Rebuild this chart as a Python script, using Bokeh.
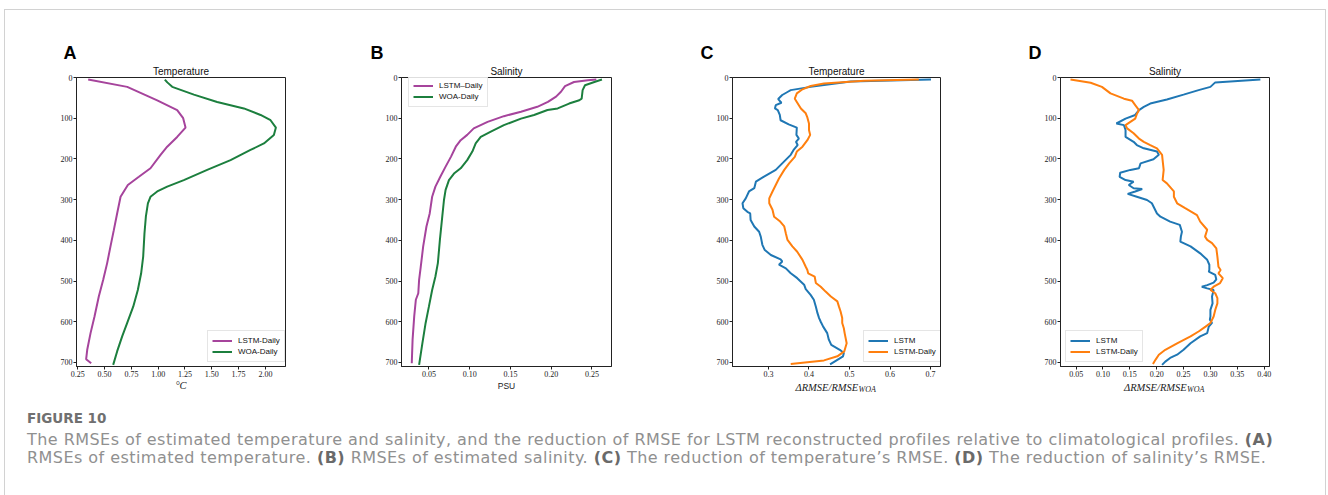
from bokeh.plotting import figure
from bokeh.models import (Range1d, FixedTicker, NumeralTickFormatter, Title,
                          Legend, LegendItem, Div)
from bokeh.layouts import row, column
from bokeh.embed import file_html
from bokeh.resources import INLINE

# ---------------- data ----------------
depth_ticks = [0, 100, 200, 300, 400, 500, 600, 700]

# Panel A: RMSE of temperature (degC)
a_lstm_depth = [5, 23, 56, 80, 100, 123, 146, 170, 190, 223, 244, 264, 293, 334,
                375, 415, 456, 497, 538, 587, 628, 669, 692, 702]
a_lstm = [0.347, 0.711, 0.991, 1.177, 1.233, 1.255, 1.177, 1.084, 1.022, 0.928,
          0.820, 0.717, 0.649, 0.617, 0.586, 0.555, 0.524, 0.487, 0.446, 0.406,
          0.369, 0.338, 0.328, 0.375]
a_woa_depth = [5, 12, 23, 42, 60, 76, 92, 105, 123, 141, 162, 178, 203, 227, 252,
               268, 280, 293, 309, 342, 383, 440, 481, 522, 563, 603, 636, 673, 706]
a_woa = [1.062, 1.085, 1.131, 1.333, 1.55, 1.799, 1.955, 2.048, 2.098, 2.079,
         1.986, 1.861, 1.675, 1.457, 1.239, 1.084, 0.991, 0.928, 0.904, 0.885,
         0.872, 0.860, 0.841, 0.810, 0.767, 0.711, 0.664, 0.617, 0.580]
a_xticks = ["0.25", "0.50", "0.75", "1.00", "1.25", "1.50", "1.75", "2.00"]

# Panel B: RMSE of salinity (PSU)
b_lstm_depth = [5, 7, 11, 21, 35, 47, 60, 72, 84, 95, 109, 125, 141, 154, 170,
                195, 219, 244, 268, 293, 334, 366, 415, 465, 497, 530, 546, 587,
                644, 702]
b_lstm = [0.2554, 0.245, 0.228, 0.217, 0.212, 0.206, 0.196, 0.183, 0.163, 0.142,
          0.122, 0.105, 0.097, 0.089, 0.083, 0.077, 0.0705, 0.064, 0.058, 0.054,
          0.051, 0.047, 0.043, 0.040, 0.038, 0.037, 0.034, 0.032, 0.030, 0.029]
b_woa_depth = [5, 11, 19, 31, 52, 56, 64, 76, 80, 92, 101, 117, 133, 146, 162,
               182, 203, 223, 236, 252, 276, 301, 342, 399, 456, 489, 522, 563,
               603, 653, 706]
b_woa = [0.2623, 0.253, 0.2415, 0.2386, 0.2374, 0.2345, 0.222, 0.208, 0.1955,
         0.179, 0.163, 0.142, 0.126, 0.1136, 0.1074, 0.1033, 0.097, 0.089, 0.0808,
         0.0746, 0.0705, 0.0685, 0.0664, 0.0635, 0.061, 0.058, 0.054, 0.050,
         0.046, 0.042, 0.038]
b_xticks = ["0.05", "0.10", "0.15", "0.20", "0.25"]

# Panel C: reduction of temperature RMSE
c_lstm_depth = [5, 10, 23, 31, 35, 43, 53, 62, 68, 76, 80, 92, 105, 115, 123,
                141, 150, 158, 166, 178, 190, 211, 227, 244, 256, 272, 280, 297,
                309, 321, 330, 334, 350, 366, 379, 391, 411, 424, 436, 447, 452,
                460, 469, 481, 493, 509, 520, 534, 546, 563, 579, 591, 600, 612,
                628, 644, 657, 669, 677, 685, 705]
c_lstm = [0.701, 0.503, 0.404, 0.355, 0.348, 0.334, 0.324, 0.332, 0.318, 0.316,
          0.323, 0.328, 0.330, 0.350, 0.370, 0.369, 0.375, 0.368, 0.372, 0.362,
          0.355, 0.334, 0.318, 0.288, 0.269, 0.265, 0.252, 0.244, 0.236, 0.238,
          0.248, 0.255, 0.256, 0.265, 0.277, 0.281, 0.285, 0.291, 0.306, 0.330,
          0.334, 0.326, 0.343, 0.355, 0.371, 0.388, 0.392, 0.404, 0.412, 0.417,
          0.421, 0.425, 0.429, 0.435, 0.445, 0.449, 0.455, 0.476, 0.486, 0.484,
          0.452]
c_daily_depth = [5, 8, 15, 21, 29, 39, 52, 60, 76, 88, 98, 113, 129, 141, 154,
                 170, 182, 195, 211, 227, 248, 264, 280, 297, 309, 325, 342, 354,
                 366, 383, 399, 415, 428, 448, 465, 473, 481, 489, 505, 514, 526,
                 538, 550, 563, 575, 591, 603, 616, 628, 653, 673, 685, 695, 704]
c_daily = [0.671, 0.536, 0.437, 0.404, 0.384, 0.370, 0.365, 0.370, 0.380, 0.392,
           0.396, 0.400, 0.400, 0.403, 0.396, 0.384, 0.370, 0.365, 0.351, 0.339,
           0.326, 0.318, 0.310, 0.302, 0.302, 0.310, 0.314, 0.329, 0.339, 0.343,
           0.347, 0.359, 0.371, 0.384, 0.392, 0.396, 0.398, 0.414, 0.417, 0.429,
           0.441, 0.454, 0.470, 0.474, 0.478, 0.482, 0.482, 0.486, 0.488, 0.493,
           0.487, 0.470, 0.437, 0.355]
c_xticks = ["0.3", "0.4", "0.5", "0.6", "0.7"]

# Panel D: reduction of salinity RMSE
d_lstm_depth = [5, 12, 23, 31, 42, 54, 64, 72, 80, 92, 101, 113, 117, 129, 146,
                158, 166, 174, 182, 190, 201, 211, 223, 227, 234, 244, 252, 256,
                264, 272, 274, 280, 286, 293, 301, 309, 334, 342, 354, 362, 379,
                391, 403, 415, 432, 448, 460, 473, 477, 485, 496, 504, 510, 514,
                518, 522, 538, 555, 571, 587, 595, 603, 612, 628, 636, 653, 669,
                681, 689, 698, 706]
d_lstm = [0.393, 0.309, 0.300, 0.278, 0.250, 0.219, 0.188, 0.176, 0.167, 0.160,
          0.142, 0.125, 0.139, 0.142, 0.142, 0.157, 0.163, 0.176, 0.2005, 0.204,
          0.194, 0.170, 0.167, 0.151, 0.132, 0.131, 0.142, 0.157, 0.148, 0.157,
          0.173, 0.160, 0.146, 0.163, 0.182, 0.191, 0.2005, 0.207, 0.225, 0.243,
          0.247, 0.245, 0.244, 0.263, 0.281, 0.294, 0.298, 0.298, 0.297, 0.309,
          0.311, 0.306, 0.294, 0.284, 0.294, 0.306, 0.303, 0.304, 0.300, 0.300,
          0.299, 0.303, 0.297, 0.294, 0.281, 0.263, 0.250, 0.238, 0.225, 0.216,
          0.210]
d_daily_depth = [5, 13, 23, 39, 52, 57, 68, 80, 90, 101, 109, 117, 125, 137, 150,
                 158, 166, 174, 190, 203, 227, 252, 260, 280, 293, 309, 321, 338,
                 354, 374, 391, 399, 407, 420, 440, 465, 473, 481, 493, 505, 514,
                 522, 530, 542, 555, 571, 587, 603, 612, 624, 636, 653, 669, 681,
                 693, 704]
d_daily = [0.0395, 0.077, 0.098, 0.114, 0.139, 0.154, 0.160, 0.167, 0.163, 0.160,
           0.151, 0.142, 0.145, 0.157, 0.167, 0.176, 0.188, 0.2005, 0.210, 0.211,
           0.213, 0.211, 0.219, 0.232, 0.232, 0.238, 0.253, 0.275, 0.281, 0.294,
           0.290, 0.294, 0.303, 0.311, 0.313, 0.315, 0.319, 0.315, 0.323, 0.318,
           0.306, 0.300, 0.309, 0.313, 0.313, 0.309, 0.306, 0.300, 0.291, 0.278,
           0.263, 0.238, 0.216, 0.204, 0.198, 0.193]
d_xticks = ["0.05", "0.10", "0.15", "0.20", "0.25", "0.30", "0.35", "0.40"]

titles = ["Temperature", "Salinity", "Temperature", "Salinity"]
letters = ["A", "B", "C", "D"]

PURPLE = "#a6449c"
GREEN = "#1c7f3e"
BLUE = "#1f77b4"
ORANGE = "#ff7f0e"

SERIF = "Liberation Serif"
SANS = "Liberation Sans"
INK = "#222222"


def make_panel(width, left, right, xr, xticks, fmt, letter, letter_dx, title):
    p = figure(width=width, height=395, output_backend="svg", toolbar_location=None,
               title_location=None,
               x_range=Range1d(*xr), y_range=Range1d(710, 0),
               min_border_left=left, min_border_right=right,
               min_border_top=67, min_border_bottom=39)
    p.xgrid.visible = False
    p.ygrid.visible = False
    p.outline_line_color = INK
    p.outline_line_width = 1
    p.background_fill_color = "white"
    p.border_fill_color = "white"
    for ax in (p.xaxis[0], p.yaxis[0]):
        ax.axis_line_color = INK
        ax.major_tick_line_color = INK
        ax.major_tick_in = 0
        ax.major_tick_out = 3
        ax.minor_tick_line_color = None
        ax.major_label_text_font = SERIF
        ax.major_label_text_font_size = "8px"
        ax.major_label_text_color = INK
    p.xaxis[0].ticker = FixedTicker(ticks=[float(t) for t in xticks])
    p.xaxis[0].formatter = NumeralTickFormatter(format=fmt)
    p.xaxis[0].major_label_standoff = 1
    p.yaxis[0].ticker = FixedTicker(ticks=depth_ticks)
    p.yaxis[0].major_label_standoff = 1
    p.add_layout(Title(text=title, align="center", standoff=2,
                       text_font=SANS, text_font_size="10px",
                       text_font_style="normal", text_color="#111111"), "above")
    p.add_layout(Title(text=letter, align="left", offset=letter_dx, standoff=0,
                       text_font=SANS, text_font_size="18px",
                       text_font_style="bold", text_color="#000000"), "above")
    return p


def style_legend(p, items, loc):
    lg = Legend(items=items, location=loc, margin=0, padding=4, spacing=0,
                glyph_width=20, glyph_height=11, label_height=11, label_standoff=6,
                label_text_font=SANS, label_text_font_size="8px",
                label_text_color="#111111",
                border_line_color="#cccccc", background_fill_alpha=0.85)
    p.add_layout(lg)


def math_xlabel(p, frame_w, main, sub):
    # main part and its subscript, as two titles below the axis
    left = frame_w / 2 - 41
    p.add_layout(Title(text=main, align="left", offset=left, standoff=1,
                       text_font=SERIF, text_font_size="10.5px",
                       text_font_style="italic", text_color=INK), "below")
    p.add_layout(Title(text=sub, align="left", offset=left + 63, standoff=-17,
                       vertical_align="top",
                       text_font=SERIF, text_font_size="8px",
                       text_font_style="italic", text_color=INK), "below")


# Panel A
pA = make_panel(338, 71, 58, (0.238, 2.1875), a_xticks, "0.00", "A", -13, titles[0])
rA1 = pA.line(a_lstm, a_lstm_depth, line_color=PURPLE, line_width=2)
rA2 = pA.line(a_woa, a_woa_depth, line_color=GREEN, line_width=2)
style_legend(pA, [LegendItem(label="LSTM-Daily", renderers=[rA1]),
                  LegendItem(label="WOA-Daily", renderers=[rA2])], (131, 4))
pA.xaxis[0].axis_label = "°C"
pA.xaxis[0].axis_label_text_font = SERIF
pA.xaxis[0].axis_label_text_font_style = "italic"
pA.xaxis[0].axis_label_text_font_size = "10.5px"
pA.xaxis[0].axis_label_text_color = INK
pA.xaxis[0].axis_label_standoff = 0

# Panel B
pB = make_panel(328, 58, 60, (0.0164, 0.274), b_xticks, "0.00", "B", -31, titles[1])
rB1 = pB.line(b_lstm, b_lstm_depth, line_color=PURPLE, line_width=2)
rB2 = pB.line(b_woa, b_woa_depth, line_color=GREEN, line_width=2)
style_legend(pB, [LegendItem(label="LSTM–Daily", renderers=[rB1]),
                  LegendItem(label="WOA-Daily", renderers=[rB2])], (7, 259))
pB.xaxis[0].axis_label = "PSU"
pB.xaxis[0].axis_label_text_font = SANS
pB.xaxis[0].axis_label_text_font_style = "normal"
pB.xaxis[0].axis_label_text_font_size = "8.5px"
pB.xaxis[0].axis_label_text_color = INK
pB.xaxis[0].axis_label_standoff = 1

# Panel C
pC = make_panel(329, 61, 60, (0.2113, 0.7245), c_xticks, "0.0", "C", -32, titles[2])
rC1 = pC.line(c_lstm, c_lstm_depth, line_color=BLUE, line_width=2)
rC2 = pC.line(c_daily, c_daily_depth, line_color=ORANGE, line_width=2)
style_legend(pC, [LegendItem(label="LSTM", renderers=[rC1]),
                  LegendItem(label="LSTM-Daily", renderers=[rC2])], (131, 4))
math_xlabel(pC, 208, "ΔRMSE/RMSE", "WOA")

# Panel D
pD = make_panel(325, 60, 56, (0.0209, 0.410), d_xticks, "0.00", "D", -32, titles[3])
rD1 = pD.line(d_lstm, d_lstm_depth, line_color=BLUE, line_width=2)
rD2 = pD.line(d_daily, d_daily_depth, line_color=ORANGE, line_width=2)
style_legend(pD, [LegendItem(label="LSTM", renderers=[rD1]),
                  LegendItem(label="LSTM-Daily", renderers=[rD2])], (5, 4))
math_xlabel(pD, 209, "ΔRMSE/RMSE", "WOA")

BOLD = "<b style=\"font-weight:bold; color:#6a6a6a\">"
caption_html = (
    "<div style=\"font-family:'DejaVu Sans'; padding-left:22px;\">"
    "<div style=\"font-size:13.5px; line-height:16px; font-weight:bold; color:#707070; "
    "margin-top:5px; white-space:nowrap;\">FIGURE 10</div>"
    "<div style=\"font-size:16px; line-height:18.2px; font-weight:normal; color:#909090; "
    "letter-spacing:0.45px; margin-top:5px; white-space:nowrap;\">"
    "The RMSEs of estimated temperature and salinity, and the reduction of RMSE for "
    "LSTM reconstructed profiles relative to climatological profiles. "
    + BOLD + "(A)</b><br>"
    "RMSEs of estimated temperature. " + BOLD + "(B)</b> RMSEs of "
    "estimated salinity. " + BOLD + "(C)</b> The reduction of "
    "temperature’s RMSE. " + BOLD + "(D)</b> The reduction of "
    "salinity’s RMSE.</div></div>"
)
caption = Div(text=caption_html, width=1320, height=90, margin=0)

layout = column(row(pA, pB, pC, pD), caption,
                styles={"border": "1px solid #d2d2d2", "border-bottom": "none",
                        "margin-left": "4px", "margin-top": "9px",
                        "background-color": "white"})

open("out.html", "w").write(file_html(layout, INLINE))
